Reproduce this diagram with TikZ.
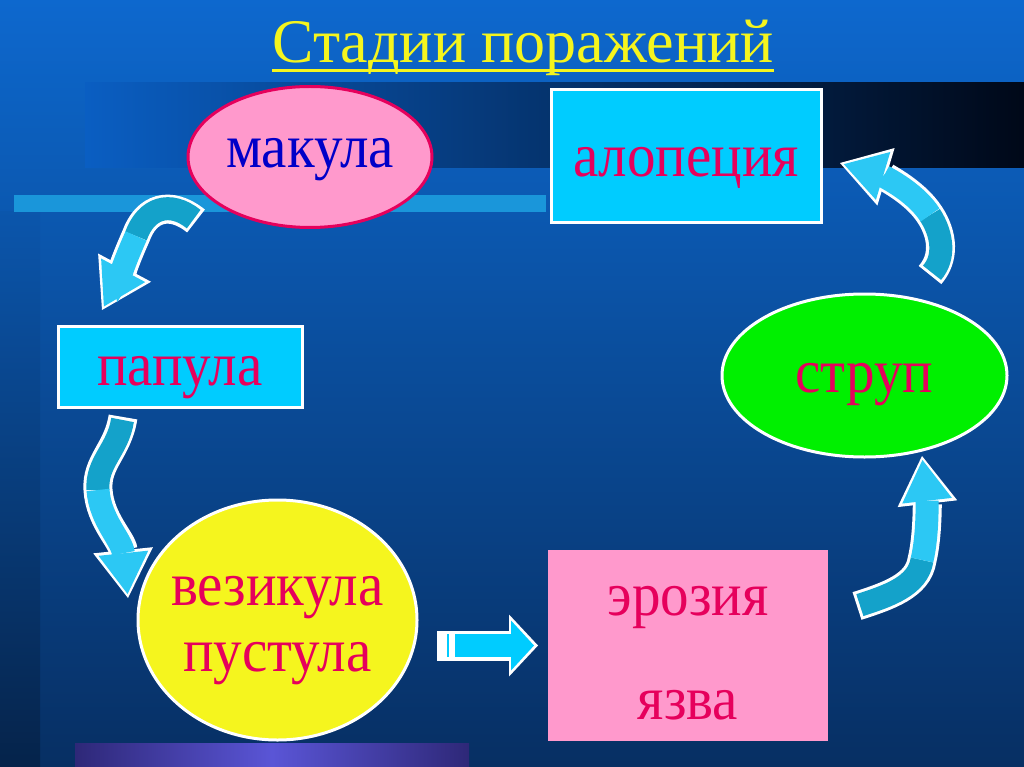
\documentclass[tikz,border=0pt]{standalone}
\usepackage{fontspec}
\setmainfont{Liberation Serif}
\newfontfamily\slidefont[FakeStretch=0.92]{Liberation Serif}
\usetikzlibrary{positioning,arrows.meta,shapes.geometric,calc}
\definecolor{bgtop}{HTML}{0D68CE}
\definecolor{bgbot}{HTML}{072F63}
\definecolor{bandl}{HTML}{0A5EC2}
\definecolor{bandr}{HTML}{000818}
\definecolor{sky}{HTML}{1A96DA}
\definecolor{plum}{HTML}{2E2878}
\definecolor{lilac}{HTML}{5A55D6}
\definecolor{rose}{HTML}{E6005C}
\definecolor{ink}{HTML}{0000C8}
\definecolor{pinkish}{HTML}{FF99CC}
\definecolor{aqua}{HTML}{00CCFF}
\definecolor{leaf}{HTML}{00F000}
\definecolor{lemon}{HTML}{F5F51E}
\definecolor{sea}{HTML}{14A2CA}
\definecolor{ice}{HTML}{2CC8F4}
\tikzset{stage/.style={font=\slidefont\fontsize{62}{66}\selectfont,text=rose,inner sep=0pt,text depth=10pt},
         rbox/.style={stage,rectangle,draw=white,line width=3pt},
         oval/.style={stage,ellipse,draw=white,line width=3pt},
         rim/.style={white,line width=29pt,-{Triangle[length=48pt,width=60pt,line width=0pt]}},
         tailpart/.style={sea,line width=23pt,shorten <=3pt},
         headpart/.style={ice,line width=23pt,shorten >=4pt,-{Triangle[length=41pt,width=50pt,line width=0pt]}}}

\begin{document}
\begin{tikzpicture}[x=1pt,y=-1pt]
 \useasboundingbox (0,0) rectangle (1024,767);
 % slide background
 \shade[top color=bgtop,bottom color=bgbot] (0,0) rectangle (1024,767);
 \shade[top color=bgtop!68!bgbot,bottom color=bgbot!75!black] (0,212) rectangle (40,767);
 \shade[left color=bandl,right color=bandr] (85,83) rectangle (1024,168);
 \fill[sky] (14,195) rectangle (546,212);
 \shade[left color=plum,right color=plum,middle color=lilac] (75,743) rectangle (469,767);

 \node[font=\fontsize{62}{66}\selectfont,text=lemon,inner sep=0pt,anchor=base] (ttl) at (523,63) {Стадии поражений};
 \draw[lemon,line width=3pt] ([yshift=-8pt]ttl.base west) -- ([yshift=-8pt]ttl.base east);

 \node[oval,fill=pinkish,draw=rose,text=ink,text height=32pt,minimum width=244pt,minimum height=141pt] (mak) at (310,157) {макула};
 \node[rbox,fill=aqua,text height=51pt,minimum width=270pt,minimum height=133pt] (alo) at (686,156.5) {алопеция};
 \node[rbox,fill=aqua,text height=47pt,minimum width=244pt,minimum height=81pt] (pap) at (180,366.5) {папула};
 \node[oval,fill=leaf,text height=43pt,minimum width=285pt,minimum height=163pt] (str) at (864.5,375.5) {струп};
 \node[oval,fill=lemon,text depth=,minimum width=279pt,minimum height=240pt,align=center] (ves) at (277.5,620) {\rule{0pt}{50pt}\makebox[150pt]{везикула}\\\makebox[150pt]{пустула}};
 \node[rbox,fill=pinkish,text depth=,draw=none,minimum width=280pt,minimum height=191pt,align=center] (ero) at (688,645.5) {\rule{0pt}{45pt}эрозия\\[38pt]язва};

 % free ends of the curved arrows
 \coordinate (a1) at (196,221); \coordinate (m1) at (136,236); \coordinate (b1) at (102,310);
 \coordinate (a2) at (123,417); \coordinate (m2) at (98,490); \coordinate (b2) at (128,598);
 \coordinate (a3) at (857,606); \coordinate (m3) at (922,560); \coordinate (b3) at (922,456);
 \coordinate (a4) at (930,275); \coordinate (m4) at (930,215); \coordinate (b4) at (840,163);

 \draw[rim] (a1) .. controls (170,200) and (146,208) .. (m1) .. controls (127,256) and (118,280) .. (b1);
 \draw[tailpart] (a1) .. controls (170,200) and (146,208) .. (m1);
 \draw[headpart] (m1) .. controls (127,256) and (118,280) .. (b1);

 \draw[rim] (a2) .. controls (118,450) and (96,462) .. (m2) .. controls (100,520) and (122,540) .. (b2);
 \draw[tailpart] (a2) .. controls (118,450) and (96,462) .. (m2);
 \draw[headpart] (m2) .. controls (100,520) and (122,540) .. (b2);

 \draw[rim] (a3) .. controls (888,596) and (918,586) .. (m3) .. controls (928,535) and (927,500) .. (b3);
 \draw[tailpart] (a3) .. controls (888,596) and (918,586) .. (m3);
 \draw[headpart] (m3) .. controls (928,535) and (927,500) .. (b3);

 \draw[rim] (a4) .. controls (945,258) and (943,235) .. (m4) .. controls (914,190) and (880,175) .. (b4);
 \draw[tailpart] (a4) .. controls (945,258) and (943,235) .. (m4);
 \draw[headpart] (m4) .. controls (914,190) and (880,175) .. (b4);

 % straight block arrow
 \draw[white,line width=30pt,shorten <=18.5pt,shorten >=8.5pt,-{Triangle[length=29pt,width=62pt,line width=0pt]}] (ves.east |- ero.west) -- (ero.west);
 \draw[aqua,line width=23pt,shorten <=36.5pt,shorten >=12.5pt,-{Triangle[length=23pt,width=50pt,line width=0pt]}] (ves.east |- ero.west) -- (ero.west);
 \draw[aqua,line width=2pt] ($(ves.east |- ero.west)+(29.5,-11.5)$) -- ++(0,23);
\end{tikzpicture}
\end{document}
